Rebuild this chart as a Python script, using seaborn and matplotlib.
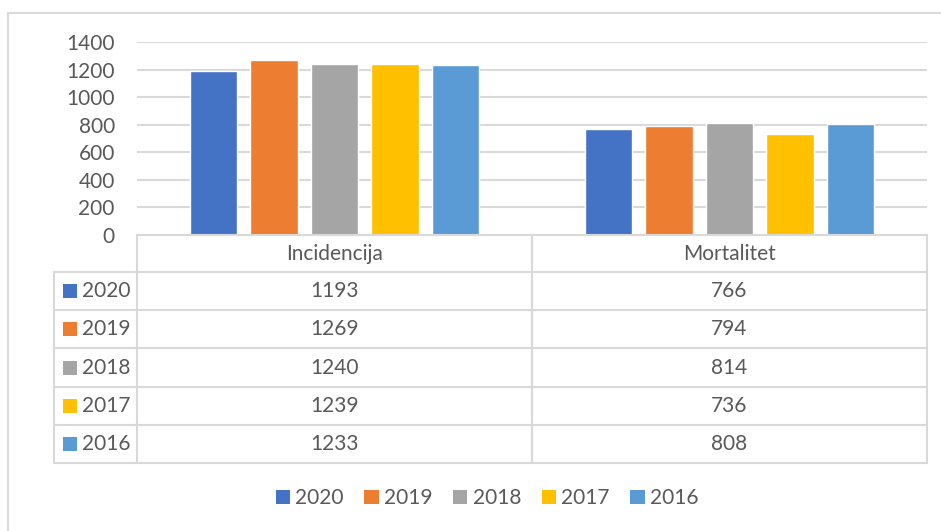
import numpy as np
import pandas as pd
import matplotlib
matplotlib.use('Agg')
import matplotlib.pyplot as plt
import seaborn as sns
from matplotlib.patches import Patch, Rectangle

categories = ['Incidencija', 'Mortalitet']
years = ['2020', '2019', '2018', '2017', '2016']
incidencija = [1193, 1269, 1240, 1239, 1233]
mortalitet = [766, 794, 814, 736, 808]
colors = ['#4472C4', '#ED7D31', '#A5A5A5', '#FFC000', '#5B9BD5']
yticks = [0, 200, 400, 600, 800, 1000, 1200, 1400]

rows = []
for i, y in enumerate(years):
    rows.append({'cat': 'Incidencija', 'year': y, 'val': incidencija[i]})
    rows.append({'cat': 'Mortalitet', 'year': y, 'val': mortalitet[i]})
df = pd.DataFrame(rows)

sns.set_theme(style='white')
plt.rcParams['font.family'] = ['Lato', 'DejaVu Sans']
txt = '#595959'
grid = '#d9d9d9'
fs = 15

W, H = 941, 531
fig = plt.figure(figsize=(W / 100, H / 100), dpi=100)

def fx(px):
    return px / W

def fy(py):
    return 1 - py / H

# bar area
ax = fig.add_axes([fx(137), fy(235), fx(927) - fx(137), fy(42) - fy(235)])
sns.barplot(data=df, x='cat', y='val', hue='year', order=categories, hue_order=years,
            palette=colors, width=0.766, gap=0.21, saturation=1, legend=False, ax=ax)
ax.set_xlim(-0.5, 1.5)
ax.set_ylim(0, 1400)
ax.set_yticks(yticks)
ax.set_yticklabels([str(v) for v in yticks])
ax.set_xticks([])
ax.set_xlabel('')
ax.set_ylabel('')
ax.tick_params(axis='y', length=0, pad=16, labelsize=fs, labelcolor=txt)
ax.yaxis.grid(True, color=grid, lw=1.5)
ax.set_axisbelow(True)
for s in ax.spines.values():
    s.set_visible(False)

# overlay in pixel coords for data table and border
ov = fig.add_axes([0, 0, 1, 1])
ov.set_xlim(0, W)
ov.set_ylim(H, 0)
ov.axis('off')

lw = 1.5
# outer chart border
ov.plot([8, W], [13, 13], color=grid, lw=lw)
ov.plot([8, 8], [13, H], color=grid, lw=lw)

x_left, x_lab, x_mid, x_right = 54, 137, 532, 927
y_top, y_head = 235, 272
row_edges = np.linspace(272, 463, len(years) + 1)

ov.plot([x_lab, x_right], [y_top, y_top], color=grid, lw=lw)
for yy in row_edges:
    ov.plot([x_left, x_right], [yy, yy], color=grid, lw=lw)
ov.plot([x_left, x_left], [y_head, row_edges[-1]], color=grid, lw=lw)
for xx in [x_lab, x_mid, x_right]:
    ov.plot([xx, xx], [y_top, row_edges[-1]], color=grid, lw=lw)

col_centers = [(x_lab + x_mid) / 2, (x_mid + x_right) / 2]
for c, cx in zip(categories, col_centers):
    ov.text(cx, (y_top + y_head) / 2, c, ha='center', va='center', fontsize=fs, color=txt)

values = [incidencija, mortalitet]
for i, yr in enumerate(years):
    cy = (row_edges[i] + row_edges[i + 1]) / 2
    ov.add_patch(Rectangle((63, cy - 7), 14, 14, color=colors[i], lw=0))
    ov.text(82, cy, yr, ha='left', va='center', fontsize=fs, color=txt)
    for j, cx in enumerate(col_centers):
        ov.text(cx, cy, str(values[j][i]), ha='center', va='center', fontsize=fs, color=txt)

# bottom legend
handles = [Patch(color=c, lw=0) for c in colors]
leg = fig.legend(handles, years, ncol=5, frameon=False, loc='center',
                 bbox_to_anchor=(fx(487), fy(498)), fontsize=fs,
                 handlelength=0.68, handleheight=0.68, handletextpad=0.25,
                 columnspacing=1.0)
for t in leg.get_texts():
    t.set_color(txt)

fig.savefig('out.png', dpi=100)
